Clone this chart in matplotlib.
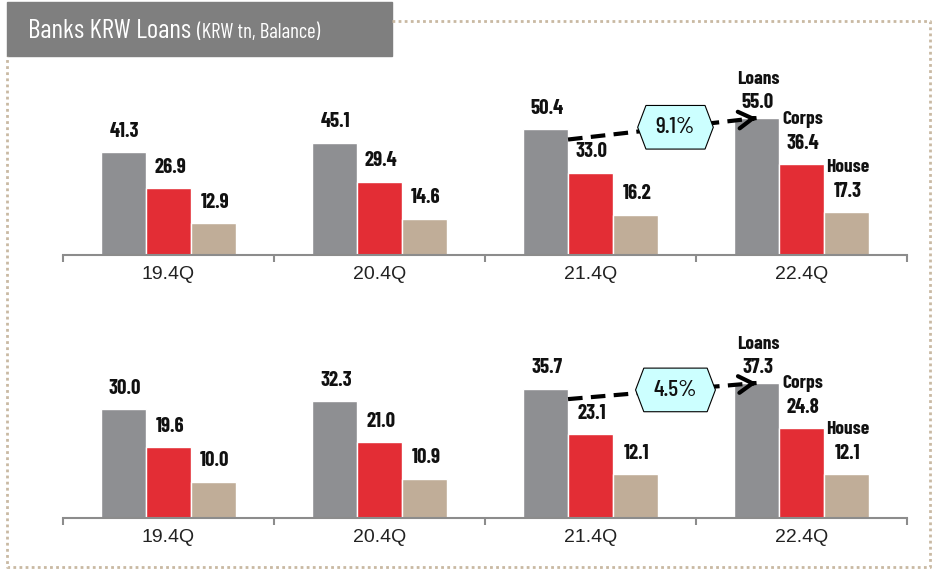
import numpy as np
import matplotlib
matplotlib.use('Agg')
import matplotlib.pyplot as plt
from matplotlib.path import Path
from matplotlib.patches import Rectangle
from matplotlib.lines import Line2D

# data
quarters = ['19.4Q', '20.4Q', '21.4Q', '22.4Q']
series   = ['Loans', 'Corps', 'House']
top_loans = [41.3, 45.1, 50.4, 55.0]
top_corps = [26.9, 29.4, 33.0, 36.4]
top_house = [12.9, 14.6, 16.2, 17.3]
bot_loans = [30.0, 32.3, 35.7, 37.3]
bot_corps = [19.6, 21.0, 23.1, 24.8]
bot_house = [10.0, 10.9, 12.1, 12.1]

colors = ['#8e8f92', '#e32d35', '#c0ad98']
narrow = ['Barlow Condensed', 'DejaVu Sans']

W, H = 933, 570
fig = plt.figure(figsize=(W/100, H/100), dpi=100)

def hexagon(x0, y0, width, height, mutation_size):
    # hexagonal label box, pointed left and right
    px, py, tip = 0.42*mutation_size, 0.5*mutation_size, 0.35*mutation_size
    x0, y0 = x0 - px, y0 - py
    x1, y1 = x0 + width + 2*px, y0 + height + 2*py
    ym = (y0 + y1)/2
    return Path([(x0, y0), (x1, y0), (x1 + tip, ym), (x1, y1), (x0, y1),
                 (x0 - tip, ym), (x0, y0)], closed=True)

def panel(rect, ymax, data):
    ax = fig.add_axes(rect)
    x = np.arange(len(quarters))
    w = 0.213
    last = len(quarters) - 1
    for i, (vals, c) in enumerate(zip(data, colors)):
        xs = x + (i-1)*w
        ax.bar(xs, vals, width=w, color=c, edgecolor='white', lw=1, zorder=2)
        for j, (xx, v) in enumerate(zip(xs, vals)):
            off = 11 if (j == last and i == 0) else 15
            ax.annotate(f'{v:.1f}', (xx, v), xytext=(1, off), textcoords='offset points',
                        ha='center', va='center', fontsize=15, fontweight='bold',
                        family=narrow, color='#111111')
            if j == last:
                ax.annotate(series[i], (xx, v), xytext=(1, off + 17), textcoords='offset points',
                            ha='center', va='center', fontsize=14, fontweight='bold',
                            family=narrow, color='#111111')

    # growth arrow between the last two Loans bars
    loans = data[0]
    x0, y0 = 2 - w/2, 0.92*loans[2]
    x1, y1 = 3 - w, loans[3]
    ax.plot([x0, x1], [y0, y1], color='black', lw=3, ls=(0, (3.5, 2)), zorder=4,
            solid_capstyle='butt', dash_capstyle='butt')
    ax.annotate('', xy=(x1, y1), xytext=(x1 - 0.02*(x1-x0), y1 - 0.02*(y1-y0)),
                arrowprops=dict(arrowstyle='->,head_length=1.0,head_width=0.6',
                                lw=3, color='black', shrinkA=0, shrinkB=0), zorder=5)
    g = (loans[3]/loans[2] - 1)*100
    f = 0.57
    ax.text(x0 + f*(x1-x0), y0 + f*(y1-y0), f'{g:.1f}%', ha='center', va='center',
            fontsize=17, fontweight='medium', family=narrow, color='#111111', zorder=6,
            bbox=dict(boxstyle=hexagon, fc='#ccffff', ec='black', lw=0.8))

    ax.set_xlim(-0.5, len(quarters)-0.5)
    ax.set_ylim(0, ymax)
    for s in ['left', 'right', 'top']:
        ax.spines[s].set_visible(False)
    ax.spines['bottom'].set_color('#8c8c8c')
    ax.spines['bottom'].set_linewidth(1.5)
    ax.set_yticks([])
    ax.set_xticks(np.arange(len(quarters)+1) - 0.5)
    ax.set_xticklabels([])
    ax.tick_params(axis='x', which='major', direction='out', length=5, width=1.5, color='#8c8c8c')
    ax.set_xticks(x, minor=True)
    ax.set_xticklabels(quarters, minor=True, fontsize=14, family='Liberation Sans', color='#222222')
    ax.tick_params(axis='x', which='minor', length=0, pad=8)
    return ax

panel([63/W, 1-255/H, 844/W, 195/H], 78.3, [top_loans, top_corps, top_house])
panel([63/W, 1-518/H, 844/W, 198/H], 54.7, [bot_loans, bot_corps, bot_house])

# dotted frame and title box
bx = [392, 930, 930, 7, 7]
by = [21, 21, 567, 567, 56]
fig.add_artist(Line2D([v/W for v in bx], [1-v/H for v in by], color='#c9b9a2',
                      lw=2, ls=(0, (1, 1.2))))
fig.add_artist(Rectangle((7/W, 1-56/H), 385/W, 54/H, color='#7f7f7f'))
t = fig.text(28/W, 1-38/H, 'Banks KRW Loans', color='white', fontsize=19.5,
             family=narrow, va='baseline')
fig.canvas.draw()
bb = t.get_window_extent()
fig.text(bb.x1/W + 6/W, 1-38/H, '(KRW tn, Balance)', color='white', fontsize=15,
         family=narrow, va='baseline')

fig.savefig('out.png', dpi=100)
